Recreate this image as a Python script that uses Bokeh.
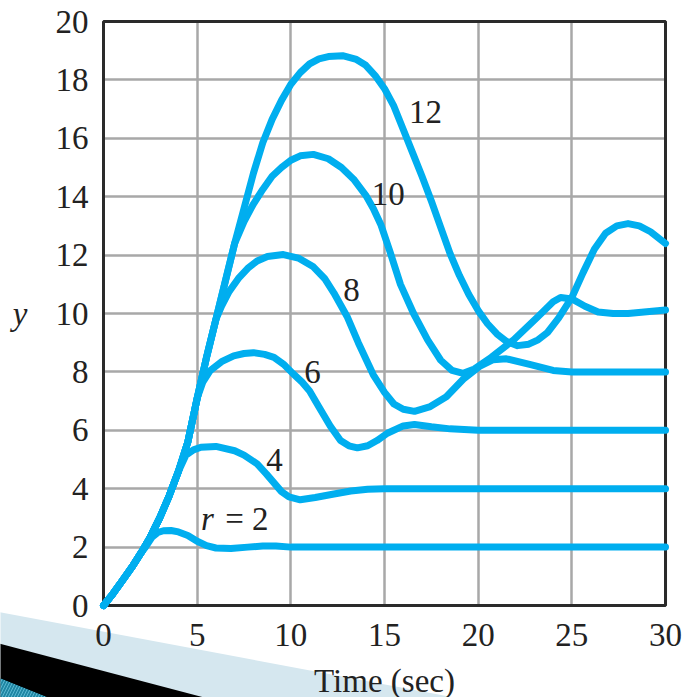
from bokeh.plotting import figure
from bokeh.models import Range1d, FixedTicker, Label, PolyAnnotation
from bokeh.embed import file_html
from bokeh.resources import INLINE

# ---- data ----
t_r2 = [0, 0.5, 1, 1.5, 2, 2.24, 2.6, 2.9, 3.2, 3.6, 4.0, 4.5, 5.0, 5.5, 6.0, 6.8, 7.7, 8.5, 9.2, 10.0, 11.0, 30]
y_r2 = [0, 0.4, 0.85, 1.3, 1.8, 2.0, 2.35, 2.5, 2.56, 2.57, 2.52, 2.4, 2.2, 2.05, 1.97, 1.95, 2.0, 2.04, 2.04, 2.0, 2.0, 2.0]

t_r4 = [0, 0.5, 1, 1.5, 2, 2.5, 3, 3.5, 4, 4.4, 4.8, 5.2, 6.0, 7.0, 7.5, 8.2, 8.7, 9.1, 9.5, 9.9, 10.5, 11.3, 12.3, 13.2, 14.1, 15, 30]
y_r4 = [0, 0.4, 0.85, 1.3, 1.8, 2.35, 3.0, 3.75, 4.6, 5.15, 5.33, 5.42, 5.45, 5.3, 5.15, 4.85, 4.5, 4.2, 3.9, 3.72, 3.62, 3.7, 3.82, 3.92, 3.98, 4.0, 4.0]

t_r6 = [0, 0.5, 1, 1.5, 2, 2.5, 3, 3.5, 4, 4.5, 5.0, 5.3, 5.7, 6.3, 6.95, 7.5, 8.0, 8.6, 9.1, 9.6, 10.1, 10.6, 11.0, 11.5, 12.1, 12.65, 13.1, 13.55, 14.1, 14.6, 15.15, 16.0, 16.6, 17.5, 18.5, 20, 30]
y_r6 = [0, 0.4, 0.85, 1.3, 1.8, 2.35, 3.0, 3.75, 4.6, 5.6, 7.1, 7.65, 8.05, 8.35, 8.55, 8.63, 8.66, 8.6, 8.5, 8.27, 7.95, 7.65, 7.35, 6.8, 6.15, 5.65, 5.47, 5.4, 5.47, 5.65, 5.9, 6.15, 6.2, 6.12, 6.05, 6.0, 6.0]

t_r8 = [0, 0.5, 1, 1.5, 2, 2.5, 3, 3.5, 4, 4.5, 5, 5.5, 6.0, 6.3, 6.7, 7.2, 7.7, 8.2, 8.75, 9.6, 10.4, 11.2, 11.8, 12.3, 13.0, 13.6, 14.4, 15.0, 15.5, 16.0, 16.6, 17.4, 18.3, 19.2, 20.1, 20.8, 21.5, 22.8, 24, 25, 30]
y_r8 = [0, 0.4, 0.85, 1.3, 1.8, 2.35, 3.0, 3.75, 4.6, 5.6, 7.1, 8.5, 9.8, 10.25, 10.75, 11.2, 11.55, 11.8, 11.95, 12.02, 11.9, 11.6, 11.2, 10.7, 9.9, 9.0, 7.9, 7.3, 6.9, 6.72, 6.65, 6.8, 7.15, 7.75, 8.2, 8.42, 8.45, 8.25, 8.05, 8.0, 8.0]

t_r10 = [0, 0.5, 1, 1.5, 2, 2.5, 3, 3.5, 4, 4.5, 5, 5.5, 6, 6.5, 7, 7.5, 8, 8.5, 9, 9.5, 10, 10.5, 11.2, 12, 12.7, 13.35, 14, 14.4, 14.8, 15.3, 15.85, 16.55, 17.3, 18, 18.6, 19.2, 19.8, 20.7, 21.9, 23.2, 24, 24.4, 25, 25.7, 26.4, 27.2, 28, 30]
y_r10 = [0, 0.4, 0.85, 1.3, 1.8, 2.35, 3.0, 3.75, 4.6, 5.6, 7.1, 8.5, 9.8, 11.1, 12.4, 13.15, 13.75, 14.25, 14.7, 15.0, 15.25, 15.4, 15.45, 15.3, 15.0, 14.6, 14.05, 13.6, 13.05, 12.1, 11.0, 10.0, 9.1, 8.4, 8.05, 7.95, 8.1, 8.5, 9.1, 9.9, 10.4, 10.55, 10.5, 10.25, 10.05, 10.0, 10.0, 10.12]

t_r12 = [0, 0.5, 1, 1.5, 2, 2.5, 3, 3.5, 4, 4.5, 5, 5.5, 6, 6.5, 7, 7.5, 8, 8.5, 9, 9.5, 10, 10.5, 11, 11.5, 12, 12.76, 13.5, 14, 14.5, 15, 15.5, 16, 16.5, 17, 17.5, 18, 18.5, 19, 19.5, 20, 20.5, 21, 21.5, 22.1, 22.7, 23.2, 23.7, 24.3, 25, 25.6, 26.2, 26.8, 27.4, 28, 28.6, 29.2, 30]
y_r12 = [0, 0.4, 0.85, 1.3, 1.8, 2.35, 3.0, 3.75, 4.6, 5.6, 7.1, 8.5, 9.8, 11.1, 12.4, 13.6, 14.8, 15.85, 16.65, 17.3, 17.85, 18.25, 18.55, 18.72, 18.8, 18.83, 18.7, 18.5, 18.15, 17.7, 17.1, 16.3, 15.5, 14.7, 13.85, 12.95, 12.05, 11.3, 10.65, 10.1, 9.65, 9.3, 9.05, 8.9, 8.95, 9.1, 9.35, 9.85, 10.55, 11.4, 12.2, 12.75, 13.0, 13.08, 13.0, 12.8, 12.4]

curves = [(t_r2, y_r2), (t_r4, y_r4), (t_r6, y_r6), (t_r8, y_r8), (t_r10, y_r10), (t_r12, y_r12)]

x_ticks = [0, 5, 10, 15, 20, 25, 30]
y_ticks = [0, 2, 4, 6, 8, 10, 12, 14, 16, 18, 20]

curve_labels = ["12", "10", "8", "6", "4"]
label_x = [17.19, 15.2, 13.24, 11.16, 9.13]
label_y = [16.9, 14.1, 10.82, 8.01, 5.0]

LINE = "#00AEEF"
FONT = "Liberation Serif"
FS = "33px"
TXT = "#222222"

# frame covers the whole canvas; axes are pinned at the data origin
p = figure(width=683, height=697, output_backend="svg", toolbar_location=None, title=None,
           x_range=Range1d(-5.5, 30.96), y_range=Range1d(-3.15, 20.72),
           min_border_left=0, min_border_right=0, min_border_top=0, min_border_bottom=0)
p.min_border = 0
p.background_fill_color = "white"
p.border_fill_color = "white"
p.outline_line_color = None

xa, ya = p.xaxis[0], p.yaxis[0]
xa.fixed_location = y_ticks[0]
ya.fixed_location = x_ticks[0]
xa.bounds = (x_ticks[0], x_ticks[-1])
ya.bounds = (y_ticks[0], y_ticks[-1])
for ax in (xa, ya):
    ax.axis_line_color = None
    ax.major_tick_line_color = None
    ax.minor_tick_line_color = None
    ax.major_tick_out = 0
    ax.major_tick_in = 0
    ax.minor_tick_out = 0
    ax.major_label_text_font = FONT
    ax.major_label_text_font_size = FS
    ax.major_label_text_color = TXT
    ax.axis_label_text_font = FONT
    ax.axis_label_text_font_size = FS
    ax.axis_label_text_color = TXT
    ax.axis_label_text_font_style = "normal"

xa.ticker = FixedTicker(ticks=x_ticks)
ya.ticker = FixedTicker(ticks=y_ticks)
xa.major_label_standoff = 18
ya.major_label_standoff = 15

xa.axis_label = "Time (sec)"
xa.axis_label_standoff = 14
ya.axis_label = "y"
ya.axis_label_text_font_style = "italic"
ya.axis_label_standoff = 25
if hasattr(ya, "axis_label_orientation"):
    ya.axis_label_orientation = "horizontal"

# slide decoration in the lower-left corner (screen units, origin at canvas bottom-left)
p.add_layout(PolyAnnotation(xs=[-5, 470, -5], ys=[86, -3, -3],
                            xs_units="screen", ys_units="screen",
                            fill_color="#d5e7ef", fill_alpha=1, line_color=None, level="underlay"))
p.add_layout(PolyAnnotation(xs=[-5, 215, -5], ys=[55, -3, -3],
                            xs_units="screen", ys_units="screen",
                            fill_color="#000000", fill_alpha=1, line_color=None, level="underlay"))
p.add_layout(PolyAnnotation(xs=[-5, 55, -5], ys=[21, -3, -3],
                            xs_units="screen", ys_units="screen",
                            fill_color="#1f86a3", fill_alpha=1, line_color=None, level="underlay",
                            hatch_pattern="/", hatch_color="#5bb8d2", hatch_scale=6, hatch_weight=1))

# grid lines, limited to the plot box
xg, yg = p.xgrid[0], p.ygrid[0]
xg.ticker = FixedTicker(ticks=x_ticks)
yg.ticker = FixedTicker(ticks=y_ticks)
if hasattr(xg, "cross_bounds"):
    xg.bounds = (x_ticks[0], x_ticks[-1])
    yg.bounds = (y_ticks[0], y_ticks[-1])
    xg.cross_bounds = (y_ticks[0], y_ticks[-1])
    yg.cross_bounds = (x_ticks[0], x_ticks[-1])
    for g in (xg, yg):
        g.grid_line_color = "#a8a8a8"
        g.grid_line_width = 2.5
else:
    xg.visible = False
    yg.visible = False
    p.segment(x0=x_ticks, y0=[y_ticks[0]] * len(x_ticks), x1=x_ticks, y1=[y_ticks[-1]] * len(x_ticks),
              line_color="#a8a8a8", line_width=2.5)
    p.segment(x0=[x_ticks[0]] * len(y_ticks), y0=y_ticks, x1=[x_ticks[-1]] * len(y_ticks), y1=y_ticks,
              line_color="#a8a8a8", line_width=2.5)

# plot box
p.quad(left=[x_ticks[0]], right=[x_ticks[-1]], bottom=[y_ticks[0]], top=[y_ticks[-1]],
       fill_color=None, line_color="#2a2a2a", line_width=3)

for t, y in curves:
    p.line(t, y, line_color=LINE, line_width=7, line_join="round", line_cap="round")

for txt, lx, ly in zip(curve_labels, label_x, label_y):
    p.add_layout(Label(x=lx, y=ly, text=txt, text_font=FONT, text_font_size=FS,
                       text_color=TXT, text_align="center", text_baseline="middle"))

p.add_layout(Label(x=5.55, y=2.98, text="r", text_font=FONT, text_font_size=FS,
                   text_font_style="italic", text_color=TXT,
                   text_align="center", text_baseline="middle"))
p.add_layout(Label(x=7.65, y=2.98, text="= 2", text_font=FONT, text_font_size=FS,
                   text_color=TXT, text_align="center", text_baseline="middle"))

open("out.html", "w").write(file_html(p, INLINE))
